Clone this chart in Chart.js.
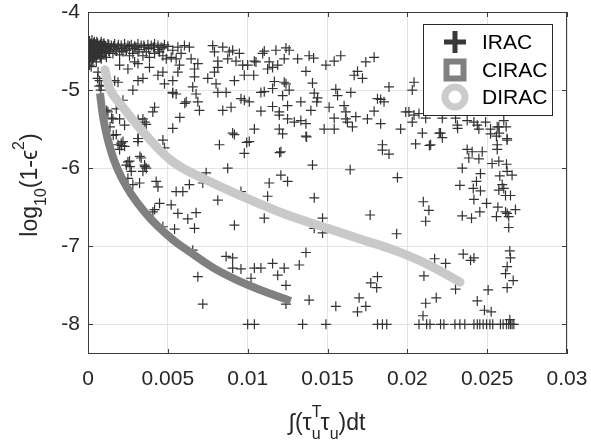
<!DOCTYPE html>
<html>
<head>
<meta charset="utf-8">
<script src="https://cdn.jsdelivr.net/npm/chart.js@4/dist/chart.umd.min.js"></script>
<style>
  html, body { margin: 0; padding: 0; background: #fff; }
  canvas { display: block; }
</style>
</head>
<body>
<canvas id="chart" width="591" height="444"></canvas>
<script>
// ---- data ----
const seriesNames = ['IRAC', 'CIRAC', 'DIRAC'];

const xTicks = [0, 0.005, 0.01, 0.015, 0.02, 0.025, 0.03];
const xTickLabels = ['0', '0.005', '0.01', '0.015', '0.02', '0.025', '0.03'];
const yTicks = [-8, -7, -6, -5, -4];
const yTickLabels = ['-8', '-7', '-6', '-5', '-4'];

// CIRAC curve (thick dark grey)
const ciracX = [0.75e-3, 0.95e-3, 1.2e-3, 1.6e-3, 2.1e-3, 2.7e-3, 3.5e-3, 4.4e-3, 5.4e-3, 6.5e-3, 7.8e-3, 9.2e-3, 10.8e-3, 12.7e-3];
const ciracY = [-5.04, -5.35, -5.6, -5.88, -6.12, -6.33, -6.55, -6.75, -6.93, -7.09, -7.27, -7.42, -7.56, -7.70];

// DIRAC curve (thick light grey)
const diracX = [1.06e-3, 1.4e-3, 2.3e-3, 3.3e-3, 5.2e-3, 7.29e-3, 10.0e-3, 12.5e-3, 15.0e-3, 17.08e-3, 19.17e-3, 21.25e-3, 23.3e-3];
const diracY = [-4.74, -5.0, -5.25, -5.5, -5.9, -6.14, -6.39, -6.6, -6.77, -6.91, -7.05, -7.23, -7.46];

// IRAC scatter, [x, y]
const iracPoints = [
  // dense band near x = 0
  [0.1e-3,-4.37],[0.1e-3,-4.45],[0.1e-3,-4.53],[0.1e-3,-4.61],[0.15e-3,-4.41],[0.15e-3,-4.50],
  [0.15e-3,-4.58],[0.25e-3,-4.36],[0.25e-3,-4.44],[0.25e-3,-4.63],[0.35e-3,-4.40],[0.35e-3,-4.49],
  [0.35e-3,-4.57],[0.45e-3,-4.44],[0.45e-3,-4.53],[0.55e-3,-4.38],[0.55e-3,-4.46],[0.65e-3,-4.50],
  [0.75e-3,-4.42],[0.75e-3,-4.56],[0.85e-3,-4.46],[0.95e-3,-4.41],[1.05e-3,-4.50],[0.1e-3,-4.68],
  [0.2e-3,-4.70],
  [0.2e-3,-4.40],[0.2e-3,-4.48],[0.2e-3,-4.55],[0.3e-3,-4.43],[0.3e-3,-4.52],[0.3e-3,-4.60],
  [0.4e-3,-4.38],[0.4e-3,-4.46],[0.4e-3,-4.56],[0.5e-3,-4.42],[0.5e-3,-4.50],[0.5e-3,-4.58],
  [0.6e-3,-4.40],[0.6e-3,-4.47],[0.6e-3,-4.54],[0.7e-3,-4.44],[0.7e-3,-4.52],[0.8e-3,-4.41],
  [0.8e-3,-4.49],[0.8e-3,-4.57],[0.9e-3,-4.45],[0.9e-3,-4.53],[1.0e-3,-4.40],[1.0e-3,-4.48],
  [1.1e-3,-4.44],[1.1e-3,-4.52],[1.2e-3,-4.46],[1.3e-3,-4.42],[1.3e-3,-4.50],[1.4e-3,-4.46],
  [1.6e-3,-4.44],[1.7e-3,-4.48],[1.9e-3,-4.42],[2.1e-3,-4.47],[2.3e-3,-4.45],[2.4e-3,-4.49],
  [2.6e-3,-4.44],[2.8e-3,-4.47],[3.0e-3,-4.45],[3.2e-3,-4.48],[3.5e-3,-4.43],[3.8e-3,-4.47],
  [4.1e-3,-4.45],[4.4e-3,-4.48],[4.7e-3,-4.46],
  [0.6e-3,-4.85],[0.7e-3,-4.95],[0.8e-3,-5.0],
  // upper left
  [0.42e-3,-4.41],[0.63e-3,-4.43],[0.83e-3,-4.38],[1.04e-3,-4.43],[0.31e-3,-4.47],[0.52e-3,-4.51],
  [0.73e-3,-4.49],[0.94e-3,-4.53],[1.15e-3,-4.47],[1.25e-3,-4.41],[1.46e-3,-4.43],[1.67e-3,-4.41],
  [1.88e-3,-4.45],[2.08e-3,-4.43],[2.29e-3,-4.41],[2.5e-3,-4.43],[2.71e-3,-4.42],[2.92e-3,-4.44],
  [3.13e-3,-4.41],[3.33e-3,-4.43],[3.54e-3,-4.45],[3.75e-3,-4.42],[3.96e-3,-4.43],[4.17e-3,-4.41],
  [4.38e-3,-4.43],[4.58e-3,-4.45],[4.79e-3,-4.42],[5.0e-3,-4.44],[0.31e-3,-4.60],[0.52e-3,-4.64],
  [0.83e-3,-4.60],[1.15e-3,-4.58],[1.35e-3,-4.51],[1.56e-3,-4.53],[1.77e-3,-4.50],[1.98e-3,-4.55],
  [2.19e-3,-4.51],[2.40e-3,-4.49],[2.60e-3,-4.56],[2.81e-3,-4.53],[3.13e-3,-4.51],[3.44e-3,-4.56],
  [3.65e-3,-4.51],[3.85e-3,-4.58],[4.17e-3,-4.53],[4.48e-3,-4.51],[4.69e-3,-4.56],[4.90e-3,-4.60],
  [5.21e-3,-4.58],[5.52e-3,-4.60],[5.31e-3,-4.49],[5.63e-3,-4.45],[5.83e-3,-4.53],[6.04e-3,-4.43],
  [6.35e-3,-4.45],[6.46e-3,-4.60],[6.88e-3,-4.66],[6.67e-3,-4.73],[7.81e-3,-4.43],[8.44e-3,-4.45],
  [7.92e-3,-4.51],[8.85e-3,-4.51],[9.06e-3,-4.49],[9.48e-3,-4.53],[8.75e-3,-4.60],[9.27e-3,-4.63],
  [9.69e-3,-4.68],[9.79e-3,-4.81],[9.17e-3,-4.88],[8.13e-3,-4.63],[8.13e-3,-4.71],[7.92e-3,-4.77],
  [7.5e-3,-4.85],[8.02e-3,-4.92],[8.65e-3,-5.03],[8.13e-3,-5.03],[6.67e-3,-4.83],[6.56e-3,-4.96],
  [6.77e-3,-5.05],[5.73e-3,-4.68],[5.63e-3,-4.77],[5.31e-3,-4.88],[4.79e-3,-4.92],[4.69e-3,-4.77],
  [4.38e-3,-4.81],[3.85e-3,-4.71],[3.13e-3,-4.66],[2.92e-3,-4.64],[2.5e-3,-4.73],[1.98e-3,-4.68],
  [3.44e-3,-4.85],[3.13e-3,-4.88],[2.81e-3,-5.0],[1.88e-3,-4.90],[1.67e-3,-4.88],[2.19e-3,-5.13],
  [4.17e-3,-5.22],[4.06e-3,-5.28],[5.31e-3,-5.03],[5.52e-3,-5.05],[6.15e-3,-5.15],[6.88e-3,-5.15],
  [6.98e-3,-5.26],[8.44e-3,-5.26],[8.96e-3,-5.22],[9.58e-3,-5.11],[9.79e-3,-5.13],
  [0.63e-3,-4.77],[0.73e-3,-4.88],[0.83e-3,-4.94],[1.25e-3,-5.28],[1.56e-3,-5.37],[1.98e-3,-5.37],
  [1.77e-3,-5.24],[2.29e-3,-5.45],[3.02e-3,-5.43],[3.44e-3,-5.37],[3.65e-3,-5.44],
  [5.3e-3,-5.04],[6.06e-3,-5.17],[5.75e-3,-5.35],[5.31e-3,-5.49],[9.06e-3,-5.55],[9.94e-3,-5.67],
  [13.69e-3,-5.60],[12.0e-3,-5.8],[1.17e-3,-5.26],[1.48e-3,-5.36],[1.38e-3,-5.47],[1.58e-3,-5.58],
  [2.1e-3,-5.71],[3.14e-3,-5.38],[3.56e-3,-5.41],[3.14e-3,-5.62],[3.25e-3,-5.85],[2.5e-3,-5.92],
  [2.63e-3,-5.98],[3.56e-3,-5.98],
  // upper middle
  [11.04e-3,-4.50],[10.94e-3,-4.53],[11.77e-3,-4.49],[12.40e-3,-4.46],[12.60e-3,-4.49],[10.42e-3,-4.63],
  [10.52e-3,-4.64],[10.0e-3,-4.68],[11.35e-3,-4.64],[11.25e-3,-4.73],[11.56e-3,-4.71],[11.88e-3,-4.68],
  [12.29e-3,-4.60],[13.13e-3,-4.60],[13.85e-3,-4.56],[14.13e-3,-4.59],[13.65e-3,-4.76],[14.90e-3,-4.68],
  [15.42e-3,-4.63],[15.83e-3,-4.56],[16.67e-3,-4.81],[17.19e-3,-4.85],[16.88e-3,-4.76],[17.40e-3,-4.64],
  [17.92e-3,-4.58],[10.38e-3,-4.81],[11.67e-3,-4.89],[11.56e-3,-4.98],[12.29e-3,-4.90],[12.40e-3,-4.92],
  [12.60e-3,-5.0],[10.83e-3,-5.03],[11.04e-3,-5.02],[12.19e-3,-5.07],[14.06e-3,-4.91],[14.17e-3,-5.04],
  [14.38e-3,-5.10],[14.33e-3,-5.15],[15.52e-3,-4.99],[15.63e-3,-5.07],[16.46e-3,-5.03],[15.10e-3,-5.22],
  [13.33e-3,-5.15],[12.5e-3,-5.20],[11.56e-3,-5.21],[10.83e-3,-5.27],[10.10e-3,-5.15],[11.98e-3,-5.28],
  [11.98e-3,-5.32],[12.5e-3,-5.37],[12.92e-3,-5.41],[13.33e-3,-5.39],[13.65e-3,-5.43],[13.96e-3,-5.26],
  [16.04e-3,-5.20],[16.15e-3,-5.28],[16.15e-3,-5.37],[16.25e-3,-5.41],[15.42e-3,-5.36],[16.77e-3,-5.34],
  [17.5e-3,-5.37],[17.92e-3,-5.27],[18.13e-3,-5.11],[18.33e-3,-5.12],[18.54e-3,-5.15],[18.85e-3,-4.96],
  [18.33e-3,-5.43],[19.58e-3,-5.50],[19.90e-3,-5.28],[10.42e-3,-5.50],[11.98e-3,-5.50],[14.79e-3,-5.50],
  [15.42e-3,-5.50],[16.56e-3,-5.47],
  // upper right
  [20.42e-3,-4.90],[20.31e-3,-5.0],[20.10e-3,-5.28],[20.42e-3,-5.32],[20.73e-3,-5.30],[21.15e-3,-5.36],
  [20.31e-3,-5.41],[22.19e-3,-5.36],[23.02e-3,-5.36],[23.13e-3,-5.45],[23.75e-3,-5.39],[24.17e-3,-5.41],
  [24.38e-3,-5.45],[24.90e-3,-5.41],[24.48e-3,-5.50],[25.21e-3,-5.50],[25.63e-3,-5.47],[26.04e-3,-5.39],
  [25.73e-3,-5.47],[23.15e-3,-5.49],[25.75e-3,-5.55],[26.19e-3,-5.47],[26.25e-3,-5.62],[21.38e-3,-5.71],
  [22.0e-3,-5.55],
  // lower left
  [1.77e-3,-5.57],[2.08e-3,-5.68],[1.88e-3,-5.70],[2.19e-3,-5.66],[2.29e-3,-5.72],[1.98e-3,-5.76],
  [3.13e-3,-5.62],[3.13e-3,-5.66],[4.69e-3,-5.64],[4.79e-3,-5.74],[9.17e-3,-5.57],[8.23e-3,-5.70],
  [10.1e-3,-5.66],[9.79e-3,-5.81],[12.08e-3,-5.79],[12.19e-3,-5.56],[13.65e-3,-5.59],[2.6e-3,-5.91],
  [2.4e-3,-5.96],[3.33e-3,-5.87],[3.54e-3,-5.96],[3.65e-3,-6.0],[3.44e-3,-6.04],[2.71e-3,-6.04],
  [2.5e-3,-6.13],[3.23e-3,-6.19],[2.81e-3,-6.21],[4.27e-3,-6.17],[4.38e-3,-6.24],[4.48e-3,-6.45],
  [5.21e-3,-6.47],[5.52e-3,-6.30],[5.94e-3,-6.30],[6.35e-3,-6.21],[7.40e-3,-6.06],[7.19e-3,-6.19],
  [8.75e-3,-6.0],[8.13e-3,-6.41],[9.58e-3,-6.30],[11.35e-3,-6.19],[12.08e-3,-6.09],[12.5e-3,-6.17],
  [11.25e-3,-6.36],[14.06e-3,-5.96],[14.17e-3,-6.38],[4.06e-3,-6.56],[4.17e-3,-6.53],[5.63e-3,-6.58],
  [6.25e-3,-6.65],[6.77e-3,-6.57],[6.67e-3,-6.77],[5.42e-3,-6.78],[4.69e-3,-6.75],[9.17e-3,-6.73],
  [11.04e-3,-6.64],[14.69e-3,-6.64],[14.69e-3,-6.83],[14.17e-3,-6.77],[6.56e-3,-7.05],[8.65e-3,-7.13],
  [9.06e-3,-7.15],[9.06e-3,-7.28],[9.58e-3,-7.29],[10.42e-3,-7.28],[10.83e-3,-7.28],[11.56e-3,-7.22],
  [12.29e-3,-7.28],[11.88e-3,-7.37],[13.23e-3,-7.24],[13.65e-3,-7.08],[12.40e-3,-7.50],[10.21e-3,-7.41],
  [6.88e-3,-7.39],[7.19e-3,-7.74],[12.40e-3,-7.74],[13.85e-3,-7.69],[10.0e-3,-8.0],[10.42e-3,-8.0],
  [13.44e-3,-8.0],[14.9e-3,-8.0],
  // lower right
  [20.94e-3,-5.55],[20.52e-3,-5.69],[21.46e-3,-5.70],[22.19e-3,-5.61],[22.08e-3,-5.55],[18.44e-3,-5.70],
  [18.44e-3,-5.77],[18.85e-3,-5.82],[16.42e-3,-6.02],[19.38e-3,-6.12],[23.75e-3,-5.76],[24.06e-3,-5.79],
  [24.69e-3,-5.79],[24.48e-3,-5.88],[23.85e-3,-5.87],[23.44e-3,-6.0],[25.31e-3,-5.94],[25.63e-3,-5.70],
  [25.63e-3,-5.76],[25.21e-3,-5.56],[25.58e-3,-5.59],[26.25e-3,-5.64],[25.73e-3,-5.91],[26.21e-3,-5.95],
  [24.58e-3,-6.07],[25.79e-3,-6.10],[26.25e-3,-6.04],[26.56e-3,-6.09],[24.33e-3,-6.17],[24.13e-3,-6.26],
  [24.58e-3,-6.29],[23.29e-3,-6.22],[25.94e-3,-6.21],[26.04e-3,-6.26],[25.73e-3,-6.28],[26.15e-3,-6.35],
  [26.46e-3,-6.35],[24.17e-3,-6.40],[24.96e-3,-6.45],[21.0e-3,-6.43],[21.35e-3,-6.54],[21.15e-3,-6.68],
  [17.67e-3,-6.60],[19.33e-3,-6.84],[23.44e-3,-6.61],[24.02e-3,-6.64],[24.54e-3,-6.56],[25.58e-3,-6.62],
  [25.67e-3,-6.50],[26.15e-3,-6.56],[26.25e-3,-6.58],[26.35e-3,-6.62],[26.77e-3,-6.53],[26.35e-3,-6.76],
  [23.5e-3,-7.10],[23.96e-3,-7.18],[24.17e-3,-7.15],[21.71e-3,-7.16],[22.40e-3,-7.22],[21.04e-3,-7.38],
  [26.42e-3,-7.06],[26.46e-3,-7.15],[26.25e-3,-7.26],[26.15e-3,-7.35],[26.63e-3,-7.44],[26.25e-3,-7.53],
  [23.02e-3,-7.55],[25.06e-3,-7.56],[18.13e-3,-7.39],[17.71e-3,-7.47],[18.08e-3,-7.53],[16.98e-3,-7.66],
  [17.40e-3,-7.77],[16.88e-3,-7.84],[15.52e-3,-7.77],[21.15e-3,-7.73],[21.81e-3,-7.66],[20.98e-3,-7.89],
  [24.38e-3,-7.70],[24.83e-3,-7.82],[25.25e-3,-7.84],[26.42e-3,-7.94],
  // bottom row at -8
  [18.13e-3,-8.0],[18.44e-3,-8.0],[18.71e-3,-8.0],[20.73e-3,-8.0],[21.21e-3,-8.0],[21.42e-3,-8.0],
  [22.08e-3,-8.0],[22.29e-3,-8.0],[22.98e-3,-8.0],[23.29e-3,-8.0],[23.6e-3,-8.0],[24.17e-3,-8.0],
  [24.38e-3,-8.0],[24.54e-3,-8.0],[24.75e-3,-8.0],[24.96e-3,-8.0],[25.17e-3,-8.0],[25.35e-3,-8.0],
  [25.83e-3,-8.0],[26.0e-3,-8.0],[26.21e-3,-8.0],[26.35e-3,-8.0],[26.46e-3,-8.0],[26.56e-3,-8.0],
  [26.67e-3,-8.0]
];

// axis titles, pieces: s = 1 superscript, s = -1 subscript, hold = do not advance
const xTitleParts = [
  { t: '\u222B(\u03C4' }, { t: 'T', s: 1, hold: true }, { t: 'u', s: -1 },
  { t: '\u03C4' }, { t: 'u', s: -1 }, { t: ')dt' }
];
const yTitleParts = [
  { t: 'log' }, { t: '10', s: -1 }, { t: '(1-\u03F5' }, { t: '2', s: 1 }, { t: ')' }
];

// ---- drawing ----
const FONT = '"Liberation Sans", Arial, Helvetica, sans-serif';
Chart.defaults.font.family = FONT;

function drawRich(ctx, parts, cx, baseY, size) {
  const small = 16;
  let total = 0;
  parts.forEach(p => {
    ctx.font = (p.s ? small : size) + 'px ' + FONT;
    if (!p.hold) total += ctx.measureText(p.t).width;
  });
  let x = cx - total / 2;
  parts.forEach(p => {
    ctx.font = (p.s ? small : size) + 'px ' + FONT;
    const dy = p.s === 1 ? -13 : (p.s === -1 ? 8.5 : 0);
    ctx.fillText(p.t, x, baseY + dy);
    if (!p.hold) x += ctx.measureText(p.t).width;
  });
}

const matlabFrame = {
  id: 'matlabFrame',
  afterDraw(chart) {
    const { ctx, chartArea: a, scales } = chart;
    ctx.save();

    // box and inward ticks
    ctx.strokeStyle = '#3c3c3c';
    ctx.lineWidth = 1;
    ctx.beginPath();
    xTicks.forEach(v => {
      const px = Math.round(scales.x.getPixelForValue(v)) + 0.5;
      ctx.moveTo(px, a.bottom); ctx.lineTo(px, a.bottom - 5);
      ctx.moveTo(px, a.top); ctx.lineTo(px, a.top + 5);
    });
    yTicks.forEach(v => {
      const py = Math.round(scales.y.getPixelForValue(v)) + 0.5;
      ctx.moveTo(a.left, py); ctx.lineTo(a.left + 5, py);
      ctx.moveTo(a.right, py); ctx.lineTo(a.right - 5, py);
    });
    ctx.stroke();
    ctx.strokeRect(a.left + 0.5, a.top + 0.5, a.right - a.left - 1, a.bottom - a.top - 1);

    // legend box
    const lx = 423, ly = 24, lw = 129, lh = 91;
    ctx.fillStyle = '#fff';
    ctx.fillRect(lx, ly, lw, lh);
    ctx.strokeStyle = '#262626';
    ctx.strokeRect(lx + 0.5, ly + 0.5, lw, lh);

    const mx = lx + 32;
    const rows = [ly + 18, ly + 46, ly + 73];
    // IRAC plus
    ctx.fillStyle = '#383838';
    ctx.fillRect(mx - 11, rows[0] - 2.5, 22, 5);
    ctx.fillRect(mx - 2.5, rows[0] - 11, 5, 22);
    // CIRAC square
    ctx.strokeStyle = '#808080';
    ctx.lineWidth = 6;
    ctx.strokeRect(mx - 8.5, rows[1] - 8.5, 17, 17);
    // DIRAC circle
    ctx.strokeStyle = '#cccccc';
    ctx.lineWidth = 7;
    ctx.beginPath();
    ctx.arc(mx, rows[2], 10, 0, Math.PI * 2);
    ctx.stroke();

    ctx.fillStyle = '#000';
    ctx.font = '21px ' + FONT;
    ctx.textBaseline = 'middle';
    seriesNames.forEach((name, i) => ctx.fillText(name, lx + 59, rows[i] + 1));

    // axis titles
    ctx.fillStyle = '#262626';
    ctx.textBaseline = 'alphabetic';
    drawRich(ctx, xTitleParts, 327, 430, 23);
    ctx.translate(37, 185);
    ctx.rotate(-Math.PI / 2);
    drawRich(ctx, yTitleParts, 0, 0, 23);

    ctx.restore();
  }
};

new Chart(document.getElementById('chart'), {
  type: 'scatter',
  data: {
    datasets: [
      {
        label: seriesNames[2],
        data: diracX.map((x, i) => ({ x: x, y: diracY[i] })),
        showLine: true,
        borderColor: '#c9c9c9',
        borderWidth: 9,
        borderCapStyle: 'round',
        tension: 0.4,
        pointRadius: 0,
        order: 1
      },
      {
        label: seriesNames[1],
        data: ciracX.map((x, i) => ({ x: x, y: ciracY[i] })),
        showLine: true,
        borderColor: '#808080',
        borderWidth: 8,
        borderCapStyle: 'butt',
        tension: 0.4,
        pointRadius: 0,
        order: 2
      },
      {
        label: seriesNames[0],
        data: iracPoints.map(p => ({ x: p[0], y: p[1] })),
        showLine: false,
        pointStyle: 'cross',
        pointRadius: 5,
        borderColor: '#333333',
        borderWidth: 1.2,
        order: 3
      }
    ]
  },
  options: {
    responsive: false,
    animation: false,
    devicePixelRatio: 1,
    layout: { padding: { left: 0, top: 12, right: 24, bottom: 0 } },
    plugins: {
      legend: { display: false },
      tooltip: { enabled: false }
    },
    scales: {
      x: {
        type: 'linear',
        min: 0,
        max: 0.03,
        afterBuildTicks: s => { s.ticks = xTicks.map(v => ({ value: v })); },
        afterFit: s => { s.height = 90; s.paddingLeft = 0; s.paddingRight = 0; },
        ticks: {
          callback: (v, i) => xTickLabels[i],
          font: { size: 21 },
          color: '#262626',
          padding: 13,
          maxRotation: 0
        },
        grid: { color: '#e4e4e4', drawTicks: false },
        border: { display: false }
      },
      y: {
        type: 'linear',
        min: -8.38,
        max: -4,
        afterBuildTicks: s => { s.ticks = yTicks.map(v => ({ value: v })); },
        afterFit: s => { s.width = 88; s.paddingTop = 0; s.paddingBottom = 0; },
        ticks: {
          callback: (v, i) => yTickLabels[i],
          font: { size: 21 },
          color: '#262626',
          padding: 8
        },
        grid: { color: '#e4e4e4', drawTicks: false },
        border: { display: false }
      }
    }
  },
  plugins: [matlabFrame]
});
</script>
</body>
</html>
